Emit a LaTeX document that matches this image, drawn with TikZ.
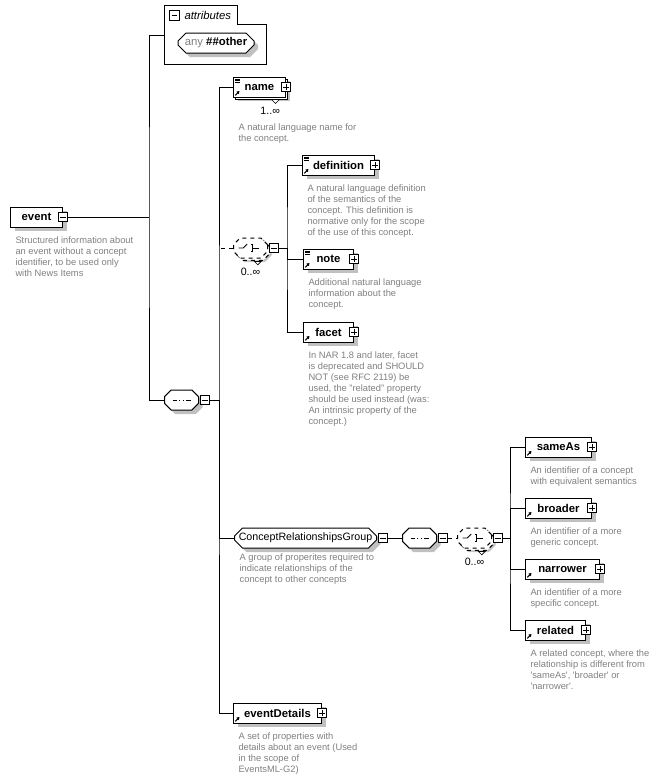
\documentclass[tikz,border=0pt]{standalone}
\usepackage{fontspec}
\setmainfont{Liberation Sans}
\usetikzlibrary{arrows.meta, positioning, shapes.misc, shadows}
\definecolor{descgray}{RGB}{128,128,128}
\definecolor{shadowgray}{RGB}{192,192,192}
\newcommand{\compspace}{\phantom{\rule[-3.5pt]{19.5pt}{7pt}}}

\begin{document}
\begin{tikzpicture}[
    x=0.75pt, y=-0.75pt,
    line width=0.75pt,
    boxshadow/.style={drop shadow={shadow xshift=3pt, shadow yshift=-3pt, fill=shadowgray, opacity=1}},
    multi/.style={copy shadow={shadow xshift=1.7pt, shadow yshift=-1.7pt, draw, fill=white}},
    elem/.style={draw, fill=white, boxshadow, anchor=west, inner sep=0pt,
      minimum height=15pt, minimum width=#1*0.75pt,
      font=\fontsize{8.5}{10}\selectfont\bfseries},
    refic/.style={path picture={
      \draw[line width=0.8pt, -{Triangle[length=2pt, width=2.4pt]}]
        ([shift={(1.3pt,1.3pt)}]path picture bounding box.south west) -- ++(3.2pt,3.2pt);}},
    docic/.style={path picture={
      \foreach \k in {1.4,2.7,4.0}
        \draw[line width=0.4pt] ([shift={(1.2pt,-\k*1pt)}]path picture bounding box.north west) -- ++(3.6pt,0pt);
      \draw[line width=0.8pt, -{Triangle[length=2pt, width=2.4pt]}]
        ([shift={(1.3pt,1.3pt)}]path picture bounding box.south west) -- ++(3.2pt,3.2pt);}},
    pmbox/.style={draw, fill=white, inner sep=0pt, minimum size=7pt, line width=0.7pt},
    minusbox/.style={pmbox, path picture={
      \draw[line width=0.6pt] ([xshift=1.3pt]path picture bounding box.west)
        -- ([xshift=-1.3pt]path picture bounding box.east);}},
    plusbox/.style={pmbox, path picture={
      \draw[line width=0.6pt] ([xshift=1.3pt]path picture bounding box.west)
        -- ([xshift=-1.3pt]path picture bounding box.east)
        ([yshift=1.3pt]path picture bounding box.south)
        -- ([yshift=-1.3pt]path picture bounding box.north);}},
    comp/.style={chamfered rectangle, chamfered rectangle xsep=3pt, chamfered rectangle ysep=2pt,
      draw, fill=white, boxshadow, anchor=west, inner sep=0pt,
      minimum width=25.5pt, minimum height=15pt},
    seqc/.style={comp, path picture={
      \draw[line width=0.7pt] ([xshift=6pt]path picture bounding box.west)
        -- ([xshift=-6pt]path picture bounding box.east);
      \foreach \d in {-2.7,0,2.7}
        \fill ([xshift=\d*1pt]path picture bounding box.center) +(-1pt,-1pt) rectangle +(1pt,1pt);}},
    choicec/.style={comp, dashed, multi, path picture={
      \draw[solid, line width=0.7pt] ([xshift=-9pt]path picture bounding box.center)
        -- ++(3.5pt,0pt) -- ++(3pt,3pt);
      \foreach \d in {-2.7,0,2.7}
        \fill ([shift={(-0.3pt,\d*1pt)}]path picture bounding box.center) +(-1pt,-1pt) rectangle +(1pt,1pt);
      \draw[solid, line width=0.5pt] ([shift={(0.7pt,2.7pt)}]path picture bounding box.center)
        -- ++(1pt,0pt) -- ++(0pt,-5.4pt) -- ++(-1pt,0pt);
      \draw[solid, line width=0.7pt] ([xshift=1.7pt]path picture bounding box.center) -- ++(4.5pt,0pt);}},
    grp/.style={chamfered rectangle, chamfered rectangle xsep=3pt, chamfered rectangle ysep=3pt,
      draw, fill=white, boxshadow, anchor=west, inner sep=0pt,
      minimum height=15pt, minimum width=#1*0.75pt, font=\fontsize{8}{10}\selectfont},
    desc/.style={font=\fontsize{7}{8.25}\selectfont, text=descgray, align=left, inner sep=0pt},
    mult/.style={font=\fontsize{8}{9}\selectfont, inner sep=0pt},
    notch/.style={draw, fill=white, line width=0.5pt},
  ]
  \useasboundingbox (0,0) rectangle (660,779);

  % attributes
  \draw[fill=white] (164,5) -- (237,5) -- (237,24) -- (266,24) -- (266,64) -- (164,64) -- cycle;
  \node[minusbox] (attr-m) at (174.5,15.5) {};
  \node[anchor=west, inner sep=0pt, font=\fontsize{8.5}{10}\selectfont\itshape] (attr-t) at (184,15) {attributes};
  \node[chamfered rectangle, chamfered rectangle xsep=3pt, chamfered rectangle ysep=3pt,
    draw, fill=white, boxshadow, inner sep=0pt, minimum width=57pt, minimum height=15pt,
    font=\fontsize{8.5}{10}\selectfont] (any) at (216,43) {\textcolor{descgray}{any} \textbf{\#\#other}};
  \coordinate (attr-in) at (164,35);

  % root
  \node[elem=52] (event) at (10,217) {event};
  \node[minusbox] (event-m) at (event.east) {};
  \node[desc, below right=6.75pt and 3.75pt of event.south west] (event-d)
    {Structured information about\\an event without a concept\\identifier, to be used only\\with News Items};

  \node[seqc] (seq1) at (164,400) {\compspace};
  \node[minusbox, right=0.75pt of seq1] (seq1-m) {};

  % first level
  \node[elem=52, docic, multi] (name) at (233,87) {name};
  \node[plusbox] (name-p) at (name.east) {};
  \draw[notch] ([shift={(9pt,-1.5pt)}]name.south) -- ++(6pt,0pt) -- ++(-3pt,-3pt) -- cycle;
  \node[mult, below=7pt of name.south, xshift=8pt] (name-n) {1..∞};
  \node[desc, below right=19.5pt and 3.75pt of name.south west] (name-d)
    {A natural language name for\\the concept.};

  \node[choicec] (choice1) at (233,248) {\compspace};
  \node[minusbox, right=0.75pt of choice1] (choice1-m) {};
  \draw[notch] ([shift={(3pt,-2.25pt)}]choice1.south) -- ++(5pt,0pt) -- ++(-2.5pt,-2.5pt) -- cycle;
  \node[mult, below=7pt of choice1.south] (choice1-n) {0..∞};

  \node[grp=142] (crg) at (234,538) {ConceptRelationshipsGroup};
  \node[minusbox, right=0.75pt of crg] (crg-m) {};
  \node[desc, below right=6.75pt and 0.75pt of crg.south west] (crg-d)
    {A group of properites required to\\indicate relationships of the\\concept to other concepts};

  \node[elem=88, refic] (evdet) at (233,713) {eventDetails};
  \node[plusbox] (evdet-p) at (evdet.east) {};
  \node[desc, below right=6.75pt and 3.75pt of evdet.south west] (evdet-d)
    {A set of properties with\\details about an event (Used\\in the scope of\\EventsML-G2)};

  % inside the choice
  \node[elem=72, docic] (def) at (302,165) {definition};
  \node[plusbox] (def-p) at (def.east) {};
  \node[desc, below right=6.75pt and 3.75pt of def.south west] (def-d)
    {A natural language definition\\of the semantics of the\\concept. This definition is\\normative only for the scope\\of the use of this concept.};

  \node[elem=50, docic] (note) at (303,259) {note};
  \node[plusbox] (note-p) at (note.east) {};
  \node[desc, below right=6.75pt and 3.75pt of note.south west] (note-d)
    {Additional natural language\\information about the\\concept.};

  \node[elem=50, refic] (facet) at (303,332) {facet};
  \node[plusbox] (facet-p) at (facet.east) {};
  \node[desc, below right=6.75pt and 3.75pt of facet.south west] (facet-d)
    {In NAR 1.8 and later, facet\\is deprecated and SHOULD\\NOT (see RFC 2119) be\\used, the "related" property\\should be used instead (was:\\An intrinsic property of the\\concept.)};

  % group content
  \node[seqc] (seq2) at (402,538) {\compspace};
  \node[minusbox, right=0.75pt of seq2] (seq2-m) {};
  \node[choicec] (choice2) at (457,538) {\compspace};
  \node[minusbox, right=0.75pt of choice2] (choice2-m) {};
  \draw[notch] ([shift={(3pt,-2.25pt)}]choice2.south) -- ++(5pt,0pt) -- ++(-2.5pt,-2.5pt) -- cycle;
  \node[mult, below=7pt of choice2.south] (choice2-n) {0..∞};

  \node[elem=66, refic] (sameas) at (525,447) {sameAs};
  \node[plusbox] (sameas-p) at (sameas.east) {};
  \node[desc, below right=6.75pt and 3.75pt of sameas.south west] (sameas-d)
    {An identifier of a concept\\with equivalent semantics};

  \node[elem=66, refic] (broader) at (525,508) {broader};
  \node[plusbox] (broader-p) at (broader.east) {};
  \node[desc, below right=6.75pt and 3.75pt of broader.south west] (broader-d)
    {An identifier of a more\\generic concept.};

  \node[elem=74, refic] (narrower) at (525,569) {narrower};
  \node[plusbox] (narrower-p) at (narrower.east) {};
  \node[desc, below right=6.75pt and 3.75pt of narrower.south west] (narrower-d)
    {An identifier of a more\\specific concept.};

  \node[elem=60, refic] (related) at (525,630) {related};
  \node[plusbox] (related-p) at (related.east) {};
  \node[desc, below right=6.75pt and 3.75pt of related.south west] (related-d)
    {A related concept, where the\\relationship is different from\\\textquotesingle sameAs\textquotesingle, \textquotesingle broader\textquotesingle\ or\\\textquotesingle narrower\textquotesingle.};

  % connectors
  \coordinate (j1) at (149,217);
  \coordinate (j2) at (219,400);
  \coordinate (j3) at (287,248);
  \coordinate (j4) at (510,538);

  \draw (event-m) -- (j1);
  \draw (attr-in) -| (j1) |- (seq1);
  \draw (seq1-m) -- (j2);
  \draw (name) -| (j2) |- (evdet);
  \draw (j2) |- (crg);
  \draw[dashed] (choice1) -- (choice1 -| j2);
  \draw (choice1-m) -- (j3);
  \draw (def) -| (j3) |- (facet);
  \draw (j3) |- (note);
  \draw (crg-m) -- (seq2);
  \draw[dashed] (seq2-m) -- (choice2);
  \draw (choice2-m) -- (j4);
  \draw (sameas) -| (j4) |- (related);
  \draw (j4) |- (broader);
  \draw (j4) |- (narrower);
\end{tikzpicture}
\end{document}
